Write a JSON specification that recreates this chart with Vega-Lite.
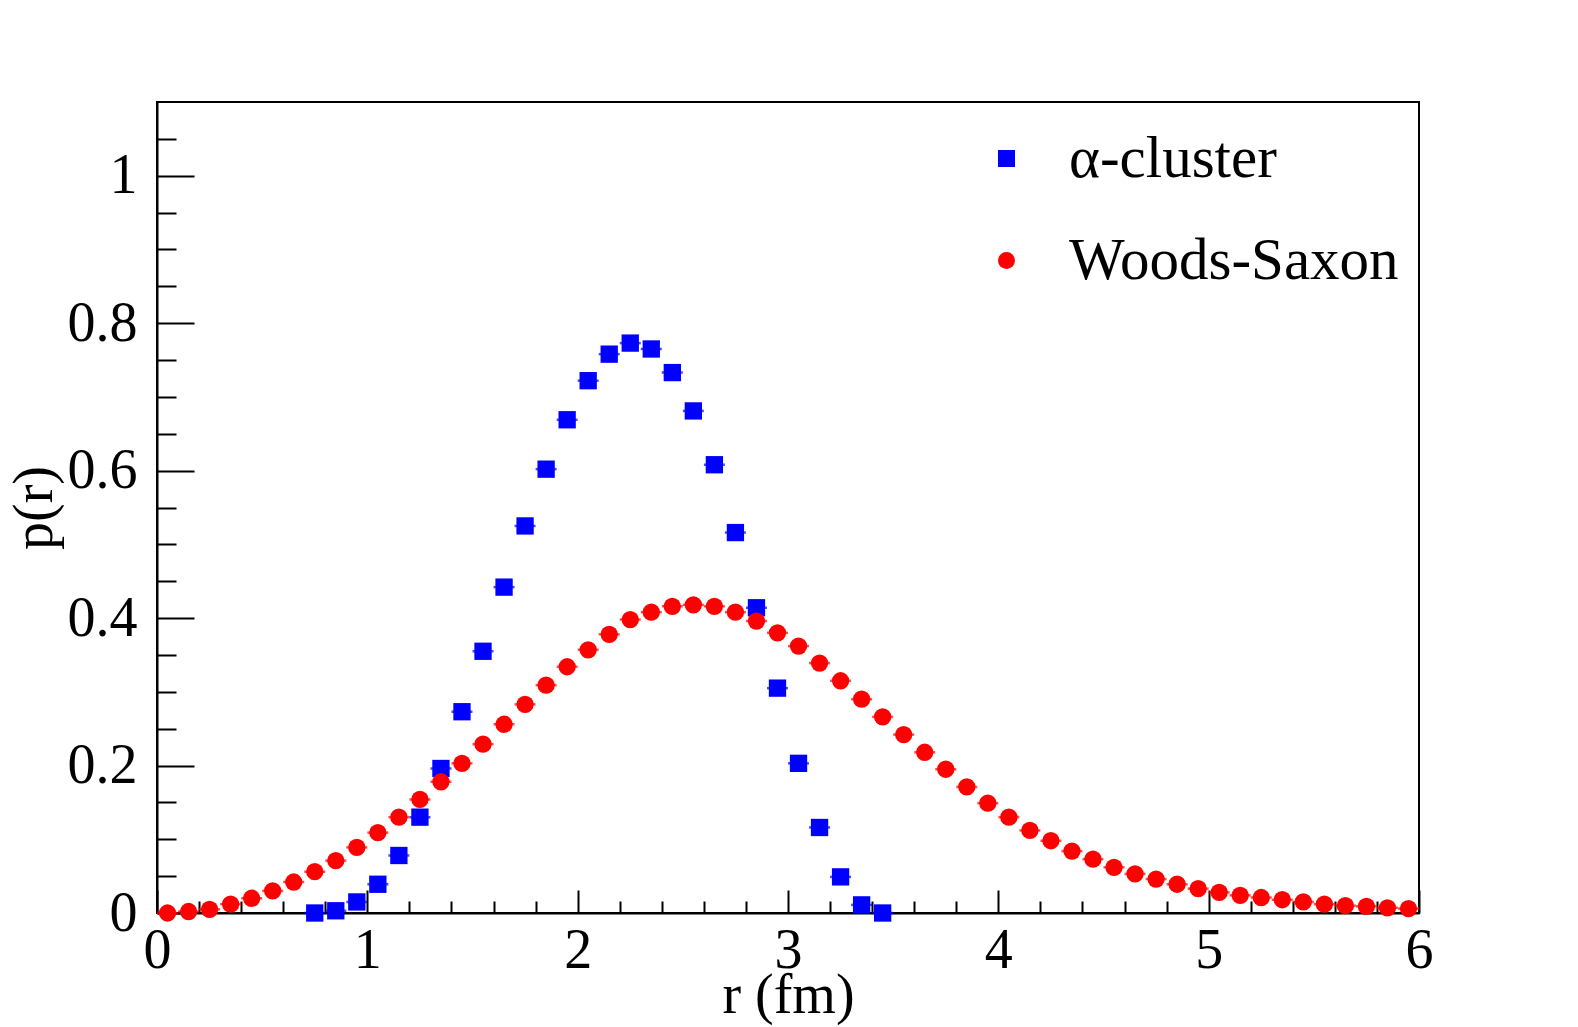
{
  "$schema": "https://vega.github.io/schema/vega-lite/v6.json",
  "width": 1262,
  "height": 811,
  "autosize": "none",
  "padding": {"left": 157, "top": 102, "right": 159, "bottom": 114},
  "background": "white",
  "config": {
    "font": "Liberation Serif",
    "view": {"stroke": "black", "strokeWidth": 2},
    "axis": {
      "grid": false,
      "domainColor": "black",
      "domainWidth": 2,
      "tickColor": "black",
      "tickWidth": 2,
      "labelColor": "black",
      "labelFont": "Liberation Serif",
      "labelFontSize": 56,
      "labelFlush": false,
      "labelOverlap": false,
      "titleFont": "Liberation Serif",
      "titleFontSize": 56,
      "titleFontWeight": "normal",
      "titleColor": "black"
    }
  },
  "data": {
    "values": [
      {"model": "α-cluster", "r": 0.75, "p": 0.000},
      {"model": "α-cluster", "r": 0.85, "p": 0.003},
      {"model": "α-cluster", "r": 0.95, "p": 0.015},
      {"model": "α-cluster", "r": 1.05, "p": 0.039},
      {"model": "α-cluster", "r": 1.15, "p": 0.078},
      {"model": "α-cluster", "r": 1.25, "p": 0.130},
      {"model": "α-cluster", "r": 1.35, "p": 0.196},
      {"model": "α-cluster", "r": 1.45, "p": 0.273},
      {"model": "α-cluster", "r": 1.55, "p": 0.355},
      {"model": "α-cluster", "r": 1.65, "p": 0.442},
      {"model": "α-cluster", "r": 1.75, "p": 0.525},
      {"model": "α-cluster", "r": 1.85, "p": 0.602},
      {"model": "α-cluster", "r": 1.95, "p": 0.669},
      {"model": "α-cluster", "r": 2.05, "p": 0.722},
      {"model": "α-cluster", "r": 2.15, "p": 0.758},
      {"model": "α-cluster", "r": 2.25, "p": 0.773},
      {"model": "α-cluster", "r": 2.35, "p": 0.765},
      {"model": "α-cluster", "r": 2.45, "p": 0.733},
      {"model": "α-cluster", "r": 2.55, "p": 0.681},
      {"model": "α-cluster", "r": 2.65, "p": 0.608},
      {"model": "α-cluster", "r": 2.75, "p": 0.516},
      {"model": "α-cluster", "r": 2.85, "p": 0.414},
      {"model": "α-cluster", "r": 2.95, "p": 0.305},
      {"model": "α-cluster", "r": 3.05, "p": 0.203},
      {"model": "α-cluster", "r": 3.15, "p": 0.116},
      {"model": "α-cluster", "r": 3.25, "p": 0.049},
      {"model": "α-cluster", "r": 3.35, "p": 0.011},
      {"model": "α-cluster", "r": 3.45, "p": 0.000},
      {"model": "Woods-Saxon", "r": 0.05, "p": 0.000},
      {"model": "Woods-Saxon", "r": 0.15, "p": 0.002},
      {"model": "Woods-Saxon", "r": 0.25, "p": 0.005},
      {"model": "Woods-Saxon", "r": 0.35, "p": 0.012},
      {"model": "Woods-Saxon", "r": 0.45, "p": 0.020},
      {"model": "Woods-Saxon", "r": 0.55, "p": 0.030},
      {"model": "Woods-Saxon", "r": 0.65, "p": 0.042},
      {"model": "Woods-Saxon", "r": 0.75, "p": 0.056},
      {"model": "Woods-Saxon", "r": 0.85, "p": 0.071},
      {"model": "Woods-Saxon", "r": 0.95, "p": 0.089},
      {"model": "Woods-Saxon", "r": 1.05, "p": 0.109},
      {"model": "Woods-Saxon", "r": 1.15, "p": 0.130},
      {"model": "Woods-Saxon", "r": 1.25, "p": 0.154},
      {"model": "Woods-Saxon", "r": 1.35, "p": 0.178},
      {"model": "Woods-Saxon", "r": 1.45, "p": 0.203},
      {"model": "Woods-Saxon", "r": 1.55, "p": 0.229},
      {"model": "Woods-Saxon", "r": 1.65, "p": 0.256},
      {"model": "Woods-Saxon", "r": 1.75, "p": 0.283},
      {"model": "Woods-Saxon", "r": 1.85, "p": 0.309},
      {"model": "Woods-Saxon", "r": 1.95, "p": 0.334},
      {"model": "Woods-Saxon", "r": 2.05, "p": 0.357},
      {"model": "Woods-Saxon", "r": 2.15, "p": 0.378},
      {"model": "Woods-Saxon", "r": 2.25, "p": 0.398},
      {"model": "Woods-Saxon", "r": 2.35, "p": 0.408},
      {"model": "Woods-Saxon", "r": 2.45, "p": 0.416},
      {"model": "Woods-Saxon", "r": 2.55, "p": 0.418},
      {"model": "Woods-Saxon", "r": 2.65, "p": 0.416},
      {"model": "Woods-Saxon", "r": 2.75, "p": 0.408},
      {"model": "Woods-Saxon", "r": 2.85, "p": 0.396},
      {"model": "Woods-Saxon", "r": 2.95, "p": 0.380},
      {"model": "Woods-Saxon", "r": 3.05, "p": 0.362},
      {"model": "Woods-Saxon", "r": 3.15, "p": 0.339},
      {"model": "Woods-Saxon", "r": 3.25, "p": 0.315},
      {"model": "Woods-Saxon", "r": 3.35, "p": 0.290},
      {"model": "Woods-Saxon", "r": 3.45, "p": 0.266},
      {"model": "Woods-Saxon", "r": 3.55, "p": 0.242},
      {"model": "Woods-Saxon", "r": 3.65, "p": 0.218},
      {"model": "Woods-Saxon", "r": 3.75, "p": 0.195},
      {"model": "Woods-Saxon", "r": 3.85, "p": 0.171},
      {"model": "Woods-Saxon", "r": 3.95, "p": 0.149},
      {"model": "Woods-Saxon", "r": 4.05, "p": 0.130},
      {"model": "Woods-Saxon", "r": 4.15, "p": 0.112},
      {"model": "Woods-Saxon", "r": 4.25, "p": 0.098},
      {"model": "Woods-Saxon", "r": 4.35, "p": 0.084},
      {"model": "Woods-Saxon", "r": 4.45, "p": 0.073},
      {"model": "Woods-Saxon", "r": 4.55, "p": 0.062},
      {"model": "Woods-Saxon", "r": 4.65, "p": 0.053},
      {"model": "Woods-Saxon", "r": 4.75, "p": 0.046},
      {"model": "Woods-Saxon", "r": 4.85, "p": 0.039},
      {"model": "Woods-Saxon", "r": 4.95, "p": 0.033},
      {"model": "Woods-Saxon", "r": 5.05, "p": 0.028},
      {"model": "Woods-Saxon", "r": 5.15, "p": 0.024},
      {"model": "Woods-Saxon", "r": 5.25, "p": 0.021},
      {"model": "Woods-Saxon", "r": 5.35, "p": 0.018},
      {"model": "Woods-Saxon", "r": 5.45, "p": 0.015},
      {"model": "Woods-Saxon", "r": 5.55, "p": 0.012},
      {"model": "Woods-Saxon", "r": 5.65, "p": 0.010},
      {"model": "Woods-Saxon", "r": 5.75, "p": 0.009},
      {"model": "Woods-Saxon", "r": 5.85, "p": 0.007},
      {"model": "Woods-Saxon", "r": 5.95, "p": 0.006}
    ]
  },
  "layer": [
    {
      "mark": {"type": "point", "filled": true, "opacity": 1, "size": 300},
      "encoding": {
        "x": {
          "field": "r",
          "type": "quantitative",
          "scale": {"domain": [0, 6], "nice": false, "zero": false},
          "axis": {
            "orient": "bottom",
            "values": [0, 1, 2, 3, 4, 5, 6],
            "format": "~g",
            "tickSize": -23,
            "labelPadding": 33,
            "title": "r (fm)",
            "titlePadding": -10
          }
        },
        "y": {
          "field": "p",
          "type": "quantitative",
          "scale": {"domain": [0, 1.1], "nice": false},
          "axis": {
            "orient": "left",
            "values": [0, 0.2, 0.4, 0.6, 0.8, 1],
            "format": "~g",
            "tickSize": -37,
            "labelPadding": 57,
            "title": "p(r)",
            "titlePadding": 4
          }
        },
        "color": {
          "field": "model",
          "type": "nominal",
          "scale": {"domain": ["α-cluster", "Woods-Saxon"], "range": ["#0000ff", "#ff0000"]},
          "legend": {
            "title": null,
            "orient": "none",
            "legendX": 820,
            "legendY": 27,
            "padding": 0,
            "labelFont": "Liberation Serif",
            "labelFontSize": 59,
            "labelColor": "black",
            "labelLimit": 600,
            "labelOffset": 33,
            "symbolSize": 289,
            "symbolStrokeWidth": 0,
            "rowPadding": 42
          }
        },
        "shape": {
          "field": "model",
          "type": "nominal",
          "scale": {"domain": ["α-cluster", "Woods-Saxon"], "range": ["square", "circle"]}
        }
      }
    },
    {
      "mark": {"type": "tick", "orient": "horizontal", "size": 21, "thickness": 2.5},
      "encoding": {
        "x": {
          "field": "r",
          "type": "quantitative",
          "scale": {"domain": [0, 6], "nice": false, "zero": false},
          "axis": {
            "orient": "bottom",
            "values": [0.2, 0.4, 0.6, 0.8, 1.2, 1.4, 1.6, 1.8, 2.2, 2.4, 2.6, 2.8, 3.2, 3.4, 3.6, 3.8, 4.2, 4.4, 4.6, 4.8, 5.2, 5.4, 5.6, 5.8],
            "tickSize": -12,
            "labels": false,
            "domain": false,
            "title": null
          }
        },
        "y": {
          "field": "p",
          "type": "quantitative",
          "scale": {"domain": [0, 1.1], "nice": false},
          "axis": {
            "orient": "left",
            "values": [0.05, 0.1, 0.15, 0.25, 0.3, 0.35, 0.45, 0.5, 0.55, 0.65, 0.7, 0.75, 0.85, 0.9, 0.95, 1.05],
            "tickSize": -19,
            "labels": false,
            "domain": false,
            "title": null
          }
        },
        "color": {
          "field": "model",
          "type": "nominal",
          "scale": {"domain": ["α-cluster", "Woods-Saxon"], "range": ["#0000ff", "#ff0000"]}
        }
      }
    }
  ],
  "resolve": {"axis": {"x": "independent", "y": "independent"}}
}
